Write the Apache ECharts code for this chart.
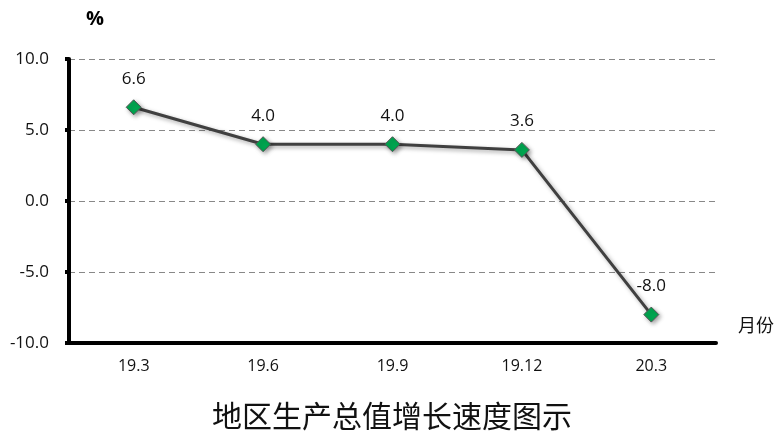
<!DOCTYPE html>
<html><head><meta charset="utf-8">
<script src="https://cdn.jsdelivr.net/npm/echarts@6/dist/echarts.min.js"></script>
<style>html,body{margin:0;padding:0;background:#fff}#c{width:784px;height:443px}</style>
</head><body><div id="c"></div>
<script>
var categories = ['19.3', '19.6', '19.9', '19.12', '20.3'];
var growth = [6.6, 4.0, 4.0, 3.6, -8.0];
var yTicks = { min: -10, max: 10, interval: 5 };
var titleText = '地区生产总值增长速度图示';
var unitY = '%';
var unitX = '月份';

var chart = echarts.init(document.getElementById('c'));
var fontF = '"Open Sans", "Noto Sans CJK SC", sans-serif';
chart.setOption({
  animation: false,
  backgroundColor: '#fff',
  title: {
    text: titleText, left: 'center', top: 396,
    textStyle: { fontFamily: '"Noto Sans CJK SC"', fontSize: 30, fontWeight: 'normal', color: '#111' }
  },
  graphic: [
    { type: 'text', left: 86, top: 9, style: { text: unitY, fontSize: 20, fontWeight: 'bold', fill: '#000', fontFamily: fontF } },
    { type: 'text', left: 738, top: 316, style: { text: unitX, fontSize: 18, fill: '#111', fontFamily: '"Noto Sans CJK SC"' } }
  ],
  grid: { left: 69, right: 68, top: 59, bottom: 100 },
  xAxis: {
    type: 'category', data: categories, boundaryGap: true,
    axisLine: { onZero: false, lineStyle: { color: '#000', width: 4 } },
    axisTick: { show: false },
    axisLabel: { fontSize: 16, color: '#111', margin: 15, fontFamily: fontF }
  },
  yAxis: {
    type: 'value', min: yTicks.min, max: yTicks.max, interval: yTicks.interval,
    axisLine: { show: true, lineStyle: { color: '#000', width: 4 } },
    axisTick: { show: true, length: 4, lineStyle: { color: '#000', width: 4 } },
    axisLabel: { fontSize: 17, color: '#111', margin: 20, fontFamily: fontF,
      formatter: function (v) { return v.toFixed(1); } },
    splitLine: { show: true, lineStyle: { color: '#888', type: [6, 4], width: 1 } }
  },
  series: [{
    type: 'line', data: growth,
    symbol: 'diamond', symbolSize: 15,
    lineStyle: { color: '#404040', width: 3, shadowColor: 'rgba(0,0,0,0.35)', shadowBlur: 4, shadowOffsetX: 2, shadowOffsetY: 2 },
    itemStyle: { color: '#00a650', borderColor: '#555', borderWidth: 1, shadowColor: 'rgba(0,0,0,0.35)', shadowBlur: 4, shadowOffsetX: 2, shadowOffsetY: 2 },
    label: { show: true, position: 'top', distance: 12, fontSize: 17, color: '#111', fontFamily: fontF,
      formatter: function (p) { return p.value.toFixed(1); } }
  }]
});
</script></body></html>
